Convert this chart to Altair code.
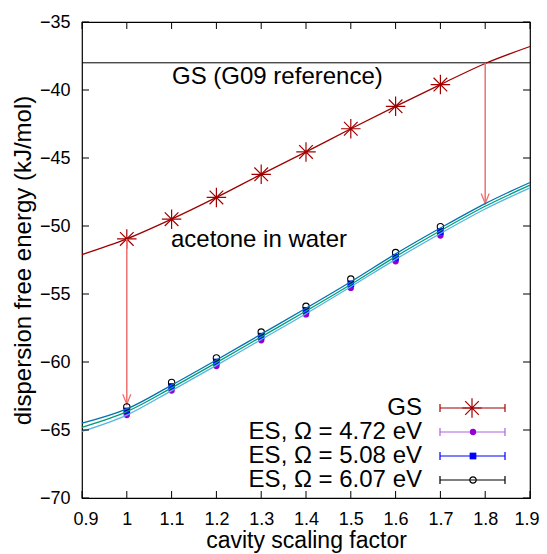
import altair as alt
import pandas as pd

# ---- data ----
x_fit = [0.9, 1.0, 1.1, 1.2, 1.3, 1.4, 1.5, 1.6, 1.7, 1.8, 1.9]
gs_fit = [-52.1, -50.95, -49.5, -47.9, -46.2, -44.55, -42.85, -41.2, -39.6, -38.05, -36.8]
es_top_fit = [-64.5, -63.45, -61.7, -59.85, -57.95, -56.05, -54.1, -52.05, -50.15, -48.35, -46.8]
es_mid_fit = [-64.8, -63.65, -61.9, -60.05, -58.15, -56.25, -54.3, -52.25, -50.35, -48.55, -47.0]
es_bot_fit = [-65.1, -63.9, -62.1, -60.25, -58.35, -56.45, -54.47, -52.45, -50.55, -48.75, -47.2]

x_pts = [1.0, 1.1, 1.2, 1.3, 1.4, 1.5, 1.6, 1.7]
gs_pts = [-50.95, -49.5, -47.9, -46.2, -44.55, -42.85, -41.2, -39.6]
es472_pts = [-63.9, -62.1, -60.3, -58.4, -56.5, -54.55, -52.6, -50.7]
es508_pts = [-63.6, -61.8, -60.0, -58.1, -56.2, -54.25, -52.3, -50.4]
es607_pts = [-63.3, -61.5, -59.7, -57.8, -55.9, -53.9, -51.95, -50.05]

ref_level = -38.0
arrow_x = [1.0, 1.8]
arrow_from = [-50.95, -38.0]
arrow_to = [-63.1, -48.35]

x_ticks = [0.9, 1.0, 1.1, 1.2, 1.3, 1.4, 1.5, 1.6, 1.7, 1.8, 1.9]
y_ticks = [-35, -40, -45, -50, -55, -60, -65, -70]

legend_labels = ["GS", "ES, Ω = 4.72 eV", "ES, Ω = 5.08 eV", "ES, Ω = 6.07 eV"]

# ---- styling ----
W, H = 448, 476
FONT = "Liberation Sans"
GS_COL = "#a00000"
ARROW_COL = "#f07070"
PURPLE = "#9400d3"
BLUE = "#0000ff"
BLACK = "#000000"
LINE_COLS = ["#0072b2", "#009e73", "#56b4e9"]
ASTERISK = "M-1,0L1,0M0,-1L0,1M-0.7,-0.7L0.7,0.7M-0.7,0.7L0.7,-0.7"
ARROWHEAD = "M-0.4,-1L0,0L0.4,-1"
TXT = 24

xs = alt.Scale(domain=[0.9, 1.9], nice=False, zero=False)
ys = alt.Scale(domain=[-70, -35], nice=False, zero=False)

x_axis = alt.Axis(values=x_ticks, format="~g", ticks=False, domain=False,
                  grid=False, labelFontSize=18, labelPadding=12,
                  labelFlush=True, labelFlushOffset=9, labelOverlap=False,
                  labelFont=FONT, labelColor="black",
                  title="cavity scaling factor", titleFont=FONT,
                  titleFontSize=23, titleFontWeight="normal",
                  titlePadding=1, titleColor="black")
y_axis = alt.Axis(values=y_ticks, ticks=False, domain=False, grid=False,
                  labelFontSize=18, labelPadding=12, labelFont=FONT,
                  labelFlush=False, labelOverlap=False,
                  labelColor="black",
                  title="dispersion free energy (kJ/mol)", titleFont=FONT,
                  titleFontSize=TXT, titleFontWeight="normal",
                  titlePadding=4, titleColor="black")


def X(f="x"):
    return alt.X(f + ":Q", scale=xs, axis=x_axis)


def Y(f="y"):
    return alt.Y(f + ":Q", scale=ys, axis=y_axis)


layers = []

# reference horizontal line
ref_df = pd.DataFrame({"y": [ref_level]})
layers.append(alt.Chart(ref_df).mark_rule(color="black", strokeWidth=1).encode(
    y=Y(), x=alt.value(0), x2=alt.value(W)))

# GS fit curve
gs_df = pd.DataFrame({"x": x_fit, "y": gs_fit})
layers.append(alt.Chart(gs_df).mark_line(color=GS_COL, strokeWidth=1.3, interpolate="monotone").encode(
    x=X(), y=Y()))

# GS points
gsp_df = pd.DataFrame({"x": x_pts, "y": gs_pts})
layers.append(alt.Chart(gsp_df).mark_point(shape=ASTERISK, size=380, filled=False, color=GS_COL,
                                           strokeWidth=1.2, opacity=1).encode(x=X(), y=Y()))

# arrows
arr_df = pd.DataFrame({"x": arrow_x, "y": arrow_from, "y2": arrow_to})
layers.append(alt.Chart(arr_df).mark_rule(color=ARROW_COL, strokeWidth=1.5).encode(
    x=X(), y=Y(), y2="y2:Q"))
layers.append(alt.Chart(arr_df).mark_point(shape=ARROWHEAD, size=400, filled=False, color=ARROW_COL,
                                           strokeWidth=1.3, opacity=1).encode(
    x=X(), y=Y("y2")))

# ES points
for vals, shape, col, filled, size in [
    (es472_pts, "circle", PURPLE, True, 40),
    (es508_pts, "square", BLUE, True, 45),
    (es607_pts, "circle", BLACK, False, 40),
]:
    d = pd.DataFrame({"x": x_pts, "y": vals})
    layers.append(alt.Chart(d).mark_point(shape=shape, size=size, filled=filled, color=col,
                                          strokeWidth=1.1, opacity=1).encode(x=X(), y=Y()))

# ES fit curves
for vals, col in zip([es_top_fit, es_mid_fit, es_bot_fit], LINE_COLS):
    d = pd.DataFrame({"x": x_fit, "y": vals})
    layers.append(alt.Chart(d).mark_line(color=col, strokeWidth=1.3, interpolate="monotone").encode(
        x=X(), y=Y()))

# inward ticks
xt = pd.DataFrame({"x": x_ticks})
yt = pd.DataFrame({"y": y_ticks})
layers.append(alt.Chart(xt).mark_rule(color="black", strokeWidth=1).encode(
    x=X(), y=alt.value(H), y2=alt.value(H - 7)))
layers.append(alt.Chart(xt).mark_rule(color="black", strokeWidth=1).encode(
    x=X(), y=alt.value(0), y2=alt.value(7)))
layers.append(alt.Chart(yt).mark_rule(color="black", strokeWidth=1).encode(
    y=Y(), x=alt.value(0), x2=alt.value(7)))
layers.append(alt.Chart(yt).mark_rule(color="black", strokeWidth=1).encode(
    y=Y(), x=alt.value(W), x2=alt.value(W - 7)))

# annotations
one = alt.Data(values=[{}])
layers.append(alt.Chart(one).mark_text(text="GS (G09 reference)", font=FONT, fontSize=TXT,
                                       align="left", baseline="middle", color="black").encode(
    x=alt.value(90), y=alt.value(55)))
layers.append(alt.Chart(one).mark_text(text="acetone in water", font=FONT, fontSize=TXT,
                                       align="left", baseline="middle", color="black").encode(
    x=alt.value(89), y=alt.value(218)))

# legend
leg_marks = [
    (GS_COL, ASTERISK, True, 380, False),
    (PURPLE, "circle", False, 40, True),
    (BLUE, "square", False, 45, True),
    (BLACK, "circle", False, 40, False),
]
for i, (lab, (col, shape, custom, size, filled)) in enumerate(zip(legend_labels, leg_marks)):
    yy = 386 + 24 * i
    lc = "#b060e0" if col == PURPLE else col
    layers.append(alt.Chart(one).mark_text(text=lab, font=FONT, fontSize=TXT, align="right",
                                           baseline="middle", color="black").encode(
        x=alt.value(340), y=alt.value(yy)))
    layers.append(alt.Chart(one).mark_rule(color=lc, strokeWidth=1.2).encode(
        x=alt.value(358), x2=alt.value(423), y=alt.value(yy)))
    for ex in (358, 423):
        layers.append(alt.Chart(one).mark_rule(color=lc, strokeWidth=1.2).encode(
            x=alt.value(ex), y=alt.value(yy - 4), y2=alt.value(yy + 4)))
    layers.append(alt.Chart(one).mark_point(shape=shape, size=size, filled=filled if not custom else False,
                                            color=col, strokeWidth=1.2, opacity=1).encode(
        x=alt.value(391 if not custom else 390), y=alt.value(yy)))

chart = alt.layer(*layers).properties(
    width=W, height=H,
    autosize=alt.AutoSizeParams(type="none"),
    padding={"left": 74, "top": 14, "right": 9, "bottom": 56},
    background="white",
).configure_view(stroke="black", strokeWidth=1.2)

chart.save("out.html", embed_options={"renderer": "svg", "actions": False})
